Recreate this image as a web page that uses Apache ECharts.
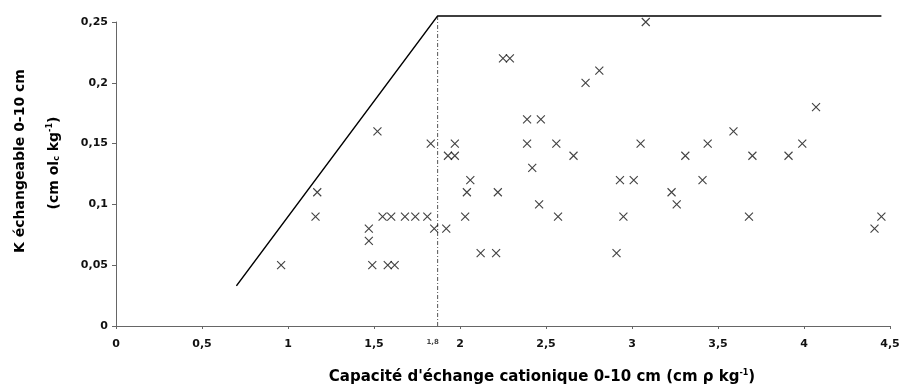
<!DOCTYPE html>
<html>
<head>
<meta charset="utf-8">
<script src="https://cdn.jsdelivr.net/npm/echarts@6/dist/echarts.min.js"></script>
<style>
  html, body { margin: 0; padding: 0; background: #fff; }
  #chart { width: 906px; height: 387px; }
</style>
</head>
<body>
<div id="chart"></div>
<script>
// CEC (cmol kg-1) and exchangeable K (cmol kg-1), 0-10 cm
const cecValues = [
  0.96, 1.17, 1.16, 1.47, 1.47, 1.49, 1.52, 1.55, 1.58, 1.60,
  1.62, 1.68, 1.74, 1.81, 1.83, 1.85, 1.92, 1.93, 1.97, 1.97,
  2.03, 2.04, 2.06, 2.12, 2.21, 2.22, 2.25, 2.29, 2.39, 2.39,
  2.42, 2.46, 2.47, 2.56, 2.57, 2.66, 2.73, 2.81, 2.91, 2.93,
  2.95, 3.01, 3.05, 3.08, 3.23, 3.26, 3.31, 3.41, 3.44, 3.59,
  3.68, 3.70, 3.91, 3.99, 4.07, 4.41, 4.45
];
const kValues = [
  0.05, 0.11, 0.09, 0.08, 0.07, 0.05, 0.16, 0.09, 0.05, 0.09,
  0.05, 0.09, 0.09, 0.09, 0.15, 0.08, 0.08, 0.14, 0.14, 0.15,
  0.09, 0.11, 0.12, 0.06, 0.06, 0.11, 0.22, 0.22, 0.17, 0.15,
  0.13, 0.10, 0.17, 0.15, 0.09, 0.14, 0.20, 0.21, 0.06, 0.12,
  0.09, 0.12, 0.15, 0.25, 0.11, 0.10, 0.14, 0.12, 0.15, 0.16,
  0.09, 0.14, 0.14, 0.15, 0.18, 0.08, 0.09
];

// Boundary envelope: rising limit then plateau
const envelopeX = [0.70, 1.87, 4.45];
const envelopeY = [0.033, 0.255, 0.255];

// Threshold CEC (vertical dash-dot line)
const thresholdX = 1.87;
const thresholdTop = 0.255;
const thresholdLabel = '1,8';

const xTickLabels = { 0: '0', 0.5: '0,5', 1: '1', 1.5: '1,5', 2: '2', 2.5: '2,5', 3: '3', 3.5: '3,5', 4: '4', 4.5: '4,5' };
const yTickLabels = { 0: '0', 0.05: '0,05', 0.1: '0,1', 0.15: '0,15', 0.2: '0,2', 0.25: '0,25' };

const FONT = 'DejaVu Sans';

const chart = echarts.init(document.getElementById('chart'), null, { renderer: 'canvas' });

const pointData = cecValues.map((x, i) => [x, kValues[i]]);
const envelopeData = envelopeX.map((x, i) => [x, envelopeY[i]]);

function fmt(table) {
  return v => {
    const key = Math.round(v * 100) / 100;
    return table[key] !== undefined ? table[key] : '';
  };
}

chart.setOption({
  animation: false,
  backgroundColor: '#fff',
  grid: { left: 116, right: 16, top: 22, bottom: 61, containLabel: false },
  xAxis: {
    type: 'value',
    min: 0, max: 4.5, interval: 0.5,
    splitLine: { show: false },
    axisLine: { show: true, lineStyle: { color: '#666', width: 1 } },
    axisTick: { show: true, inside: false, length: 3, lineStyle: { color: '#666' } },
    axisLabel: {
      formatter: fmt(xTickLabels),
      margin: 13,
      color: '#111', fontFamily: FONT, fontWeight: 'bold', fontSize: 11
    }
  },
  yAxis: {
    type: 'value',
    min: 0, max: 0.25, interval: 0.05,
    splitLine: { show: false },
    axisLine: { show: true, lineStyle: { color: '#666', width: 1 } },
    axisTick: { show: true, length: 4, lineStyle: { color: '#666' } },
    axisLabel: {
      formatter: fmt(yTickLabels),
      margin: 8,
      color: '#111', fontFamily: FONT, fontWeight: 'bold', fontSize: 11
    }
  },
  series: [
    {
      type: 'line',
      data: [[thresholdX, 0], [thresholdX, thresholdTop]],
      symbol: 'none',
      clip: false,
      lineStyle: { color: '#555', width: 1, type: [4, 2, 1, 2] },
      z: 2
    },
    {
      // carries the threshold tick label under the axis
      type: 'scatter',
      data: [[thresholdX, 0]],
      symbolSize: 0,
      silent: true,
      clip: false,
      label: {
        show: true, position: 'bottom', distance: 13, offset: [-5, 0],
        formatter: thresholdLabel,
        color: '#111', fontFamily: FONT, fontWeight: 'bold', fontSize: 7
      },
      z: 2
    },
    {
      type: 'line',
      data: envelopeData,
      symbol: 'none',
      clip: false,
      lineStyle: { color: '#000', width: 1.5 },
      z: 3
    },
    {
      type: 'scatter',
      data: pointData,
      symbol: 'path://M0,0L10,10M10,0L0,10',
      symbolSize: 8,
      itemStyle: { color: 'transparent', borderColor: '#111', borderWidth: 1.1 },
      z: 4
    }
  ],
  graphic: [
    {
      type: 'text',
      x: 542, y: 377,
      style: {
        text: '{t|Capacité d\'échange cationique 0-10 cm (cm ρ kg}{s|-1}{t|)}',
        align: 'center', verticalAlign: 'middle',
        rich: {
          t: { fontFamily: FONT, fontWeight: 'bold', fontSize: 15, fill: '#000' },
          s: { fontFamily: FONT, fontWeight: 'bold', fontSize: 8, fill: '#000', padding: [0, 0, 9, 0] }
        }
      }
    },
    {
      type: 'text',
      x: 20, y: 161,
      rotation: Math.PI / 2,
      style: {
        text: 'K échangeable 0-10 cm',
        align: 'center', verticalAlign: 'middle',
        fontFamily: FONT, fontWeight: 'bold', fontSize: 14, fill: '#000'
      }
    },
    {
      type: 'text',
      x: 54, y: 163,
      rotation: Math.PI / 2,
      style: {
        text: '{t|(cm ol}{b|c}{t| kg}{s|-1}{t|)}',
        align: 'center', verticalAlign: 'middle',
        rich: {
          t: { fontFamily: FONT, fontWeight: 'bold', fontSize: 14, fill: '#000' },
          b: { fontFamily: FONT, fontWeight: 'bold', fontSize: 8, fill: '#000', padding: [6, 0, 0, 0] },
          s: { fontFamily: FONT, fontWeight: 'bold', fontSize: 8, fill: '#000', padding: [0, 0, 9, 0] }
        }
      }
    }
  ]
});
</script>
</body>
</html>
